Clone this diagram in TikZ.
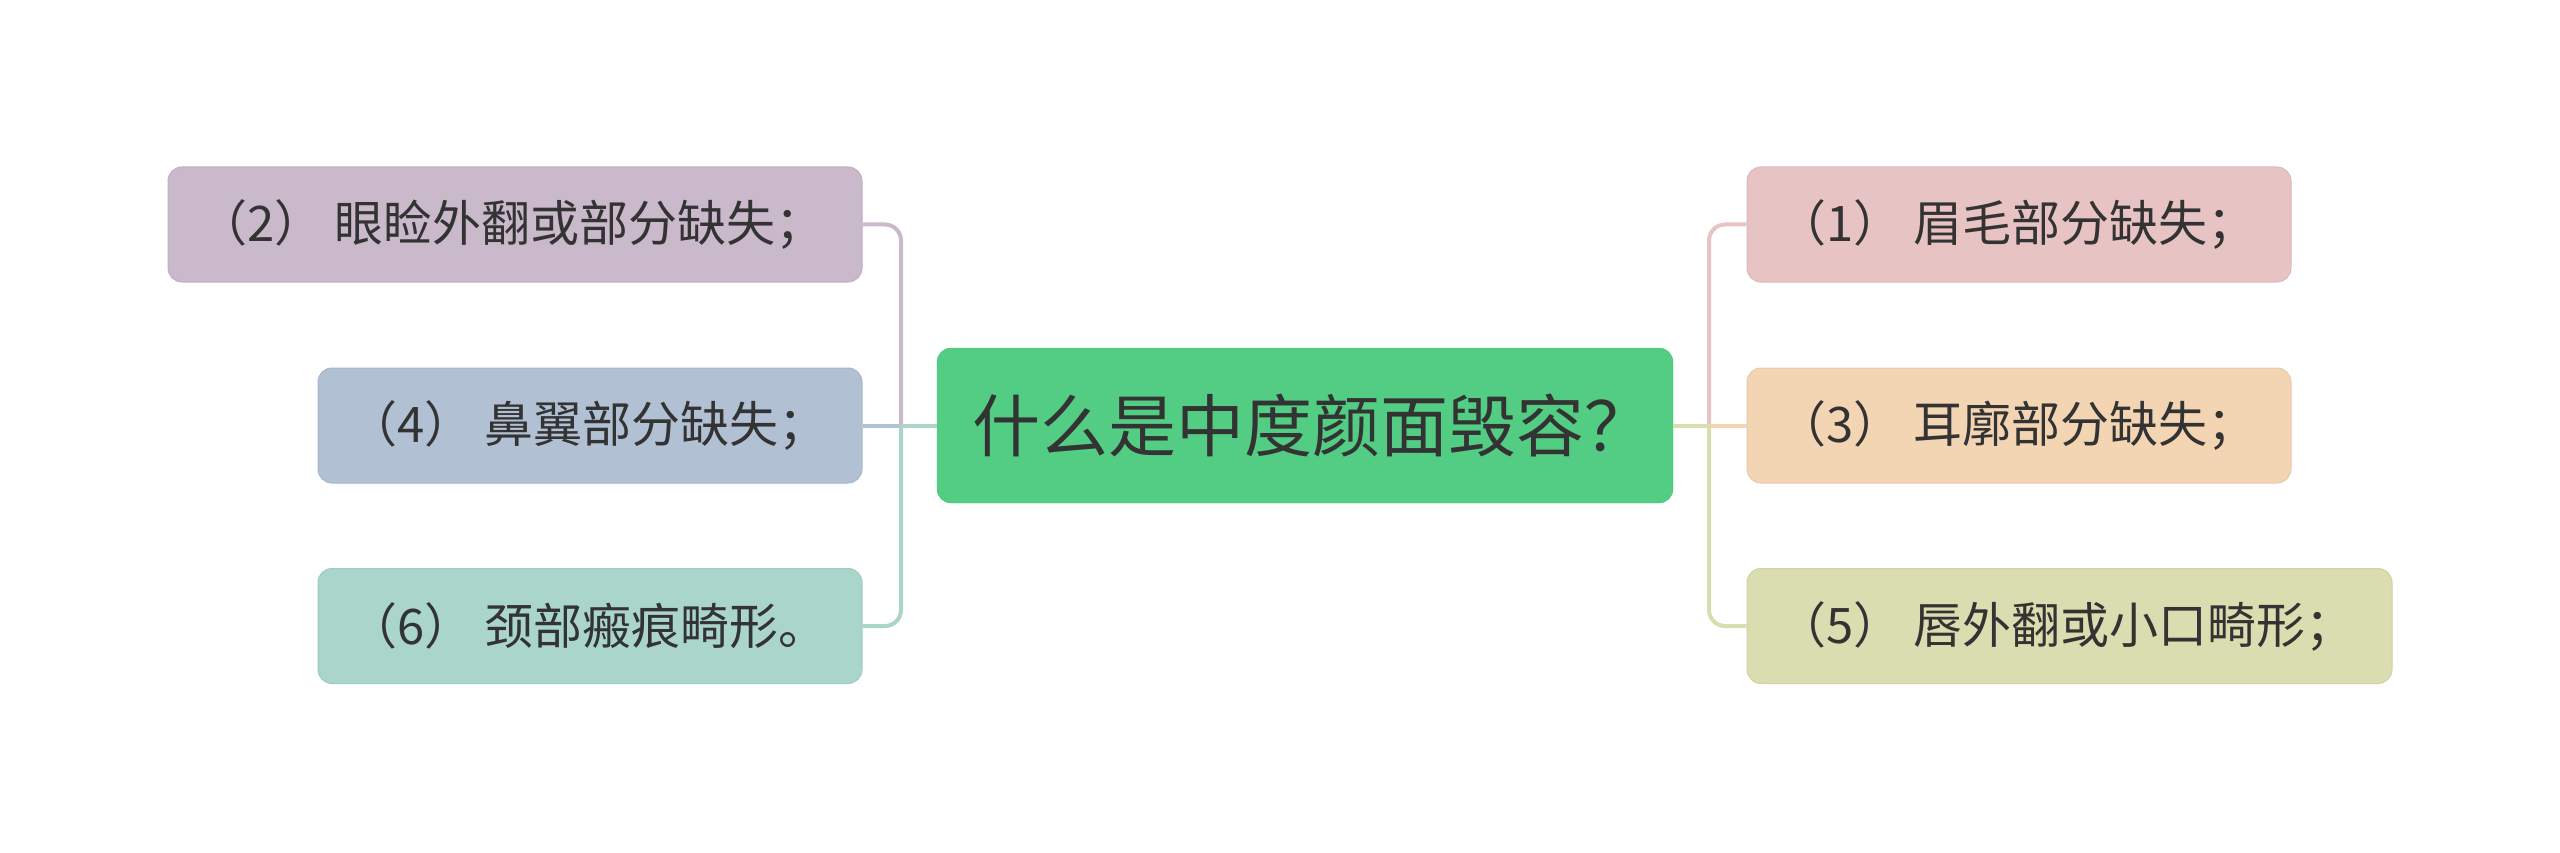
\documentclass[tikz,border=0pt]{standalone}
\usepackage{fontspec}
\newfontfamily\cjk{Noto Sans CJK SC}
\newcommand\leftfit[2]{\makebox[#1][l]{#2}}
\definecolor{textc}{HTML}{333333}
\definecolor{cmain}{HTML}{52CD83}
\definecolor{ctwo}{HTML}{C9B9CB}
\definecolor{cfour}{HTML}{B1C0D3}
\definecolor{csix}{HTML}{A9D5CB}
\definecolor{cone}{HTML}{E8C3C3}
\definecolor{cthree}{HTML}{F3D5B3}
\definecolor{cfive}{HTML}{DADDAF}
\tikzset{
  box/.style={rounded corners=14pt, minimum height=115pt, inner xsep=30pt, inner ysep=0pt,
    text=textc, font=\cjk\fontsize{49}{54}\selectfont, line width=1pt},
  mainbox/.style={rounded corners=14pt, minimum height=155pt, inner xsep=35pt, inner ysep=0pt,
    text=textc, font=\cjk\fontsize{68}{74}\selectfont, fill=cmain, draw=cmain!95!black},
  conn/.style={line width=4pt},
  elbow/.style={line width=4pt, rounded corners=16pt}
}
\begin{document}
\begin{tikzpicture}[x=1pt,y=-1pt]
\useasboundingbox (0,0) rectangle (2560,853);
\node[mainbox] (c) at (1305,425.5) {\leftfit{666pt}{什么是中度颜面毁容？}};
\node[box, fill=ctwo, draw=ctwo!95!black] (n2) at (515,224.5) {\leftfit{634pt}{（2） 眼睑外翻或部分缺失；}};
\node[box, fill=cfour, draw=cfour!95!black] (n4) at (590,425.5) {\leftfit{484pt}{（4） 鼻翼部分缺失；}};
\node[box, fill=csix, draw=csix!95!black] (n6) at (590,626) {\leftfit{484pt}{（6） 颈部瘢痕畸形。}};
\node[box, fill=cone, draw=cone!95!black] (n1) at (2019,224.5) {\leftfit{484pt}{（1） 眉毛部分缺失；}};
\node[box, fill=cthree, draw=cthree!95!black] (n3) at (2019,425.5) {\leftfit{484pt}{（3） 耳廓部分缺失；}};
\node[box, fill=cfive, draw=cfive!95!black] (n5) at (2069.5,626) {\leftfit{585pt}{（5） 唇外翻或小口畸形；}};
\coordinate (lt) at (901,425.5);
\coordinate (rt) at (1709,425.5);
% left branches
\draw[conn, ctwo] (c.west) -- (lt);
\draw[elbow, ctwo] (lt) |- (n2.east);
\draw[conn, cfour] (c.west) -- (lt);
\draw[conn, cfour] (lt) -- (n4.east);
\draw[conn, csix] (c.west) -- (lt);
\draw[elbow, csix] (lt) |- (n6.east);
% right branches
\draw[conn, cone] (c.east) -- (rt);
\draw[elbow, cone] (rt) |- (n1.west);
\draw[conn, cthree] (c.east) -- (rt);
\draw[conn, cthree] (rt) -- (n3.west);
\draw[conn, cfive] (c.east) -- (rt);
\draw[elbow, cfive] (rt) |- (n5.west);
\end{tikzpicture}
\end{document}
